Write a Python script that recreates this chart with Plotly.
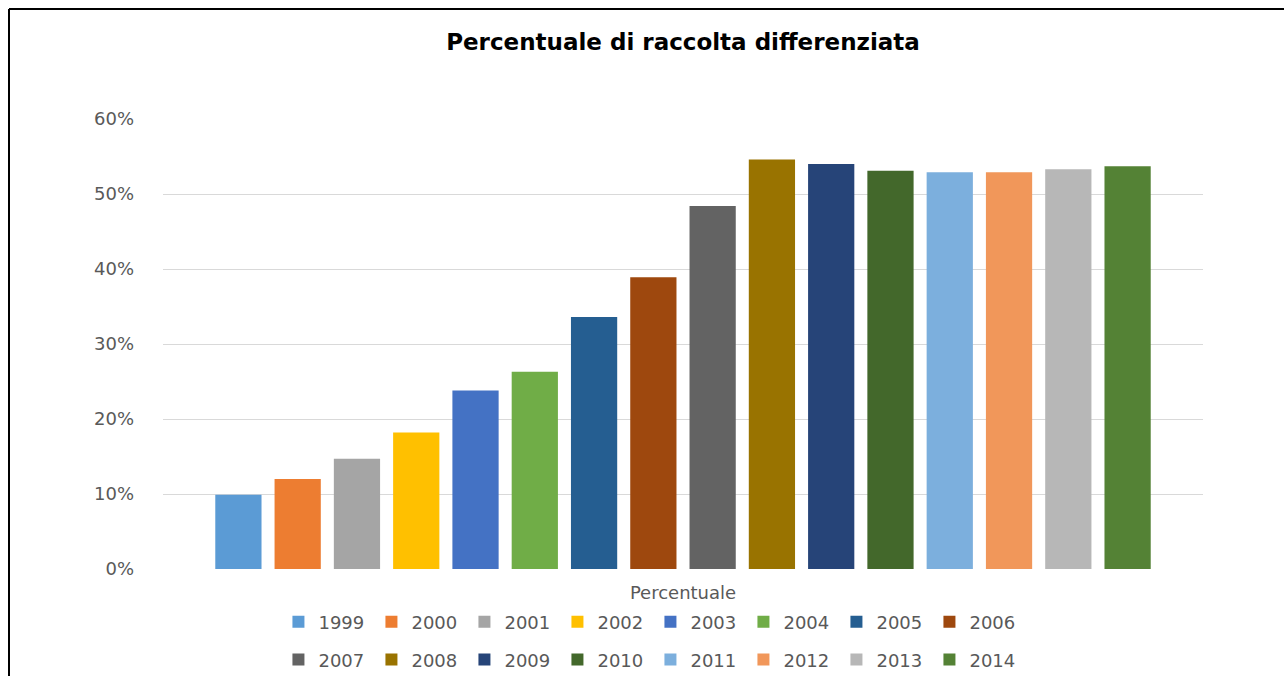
import plotly.graph_objects as go

# Share of separately collected waste, one bar per year
category = ["Percentuale"]
years = ["1999", "2000", "2001", "2002", "2003", "2004", "2005", "2006",
         "2007", "2008", "2009", "2010", "2011", "2012", "2013", "2014"]
values = [0.099, 0.120, 0.147, 0.182, 0.238, 0.263, 0.336, 0.389,
          0.484, 0.546, 0.540, 0.531, 0.529, 0.529, 0.533, 0.537]
colors = ["#5B9BD5", "#ED7D31", "#A5A5A5", "#FFC000", "#4472C4", "#70AD47",
          "#255E91", "#9E480E", "#636363", "#997300", "#264478", "#43682B",
          "#7CAFDD", "#F1975A", "#B7B7B7", "#548235"]
y_ticks = [0, 0.1, 0.2, 0.3, 0.4, 0.5, 0.6]

FONT = "DejaVu Sans"
GREY = "#595959"

fig = go.Figure()
for i, (yr, v, c) in enumerate(zip(years, values, colors)):
    fig.add_trace(go.Bar(
        x=category, y=[v], name=yr, marker=dict(color=c, line=dict(width=0)),
        legend="legend" if i < 8 else "legend2",
    ))

legend_common = dict(
    orientation="h", xanchor="left", yanchor="middle",
    font=dict(family=FONT, size=18, color=GREY),
    entrywidth=48, entrywidthmode="pixels",
    itemclick=False, itemdoubleclick=False,
    bgcolor="rgba(0,0,0,0)", tracegroupgap=0,
)

fig.update_layout(
    width=1284, height=676,
    margin=dict(l=163, r=81, t=119, b=107, autoexpand=False),
    paper_bgcolor="white", plot_bgcolor="white",
    title=dict(text="<b>Percentuale di raccolta differenziata</b>",
               x=0.5, xref="paper", xanchor="center",
               y=1 - 42 / 676, yanchor="middle",
               font=dict(family=FONT, size=23, color="#000000")),
    barmode="group", bargap=0.088, bargroupgap=0.22,
    legend=dict(x=0.111, y=-0.118, **legend_common),
    legend2=dict(x=0.111, y=-0.202, **legend_common),
    xaxis=dict(showgrid=False, showline=False, zeroline=False, ticks="",
               ticklabelstandoff=11,
               tickfont=dict(family=FONT, size=18, color=GREY)),
    yaxis=dict(range=[0, 0.6], tickvals=y_ticks, tickformat=".0%",
               showgrid=True, gridcolor="#D9D9D9", gridwidth=1,
               zeroline=False, showline=False, ticks="",
               ticklabelstandoff=28,
               tickfont=dict(family=FONT, size=18, color=GREY)),
    showlegend=True,
)

# Frame lines along the top and left edges of the chart
fig.add_shape(type="line", xref="paper", yref="paper",
              x0=(9 - 163) / 1040, x1=(1284 - 163) / 1040,
              y0=(569 - 9) / 450, y1=(569 - 9) / 450,
              line=dict(color="black", width=2))
fig.add_shape(type="line", xref="paper", yref="paper",
              x0=(9 - 163) / 1040, x1=(9 - 163) / 1040,
              y0=(569 - 9) / 450, y1=(569 - 676) / 450,
              line=dict(color="black", width=2))

fig.write_html("out.html")
